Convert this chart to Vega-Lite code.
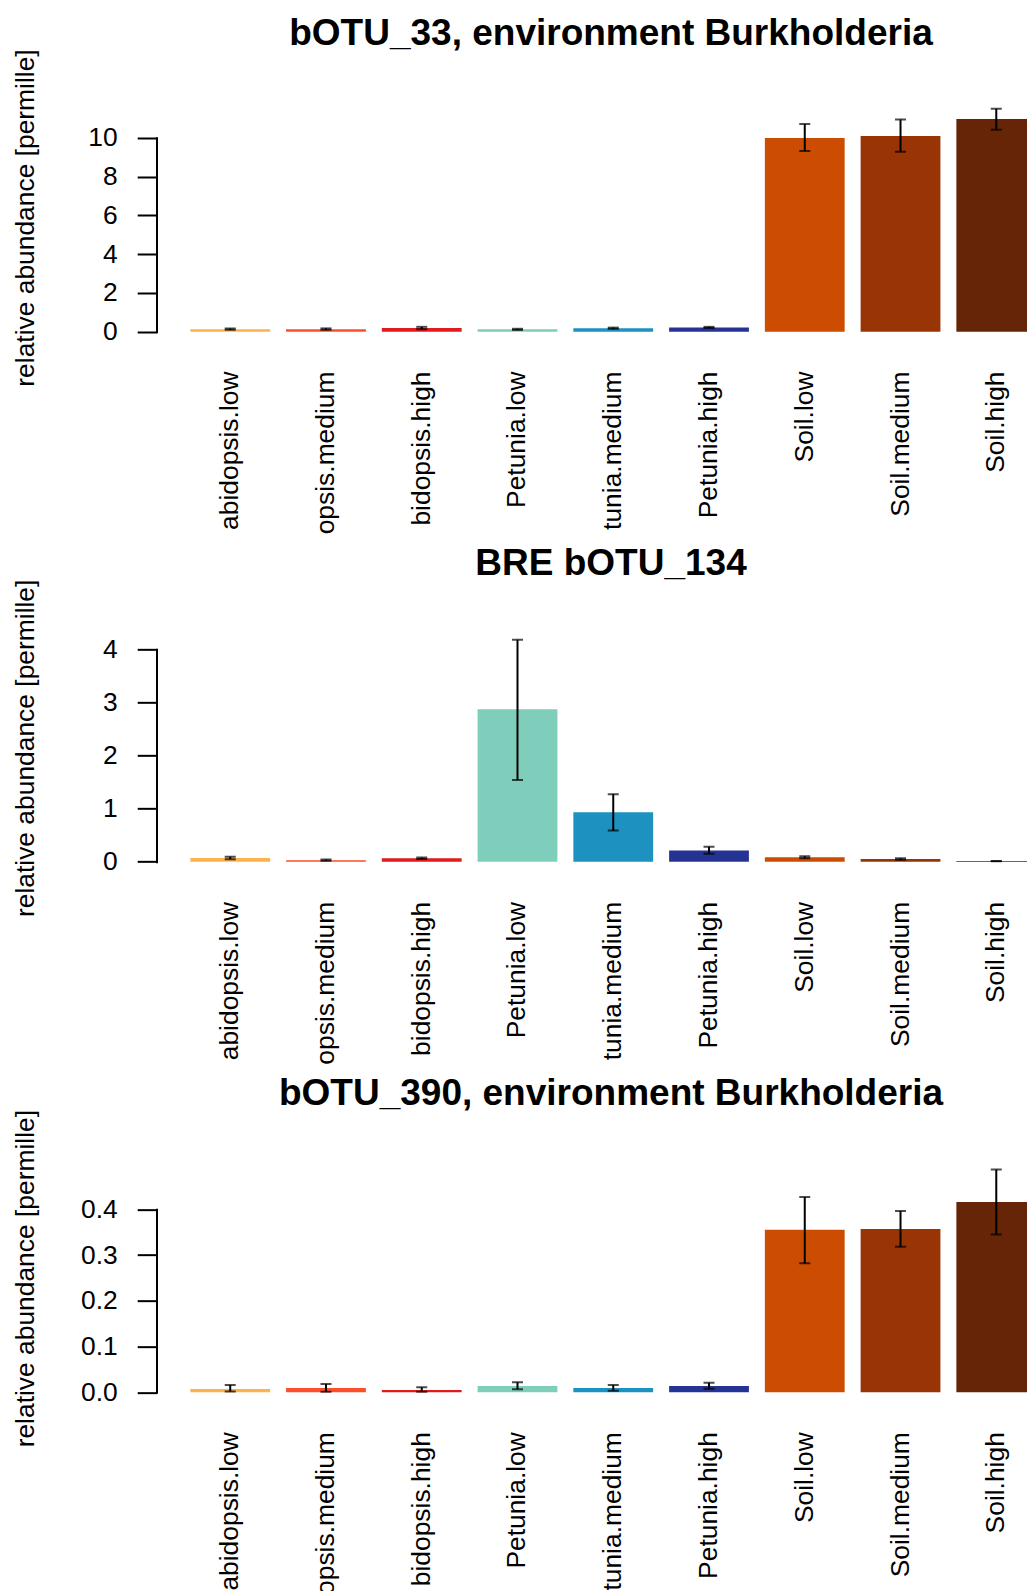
{
  "$schema": "https://vega.github.io/schema/vega-lite/v6.json",
  "background": "white",
  "padding": {"left": 11.5, "top": 14, "right": 0, "bottom": 0},
  "bounds": "flush",
  "spacing": 280.33,
  "config": {
    "font": "Liberation Sans",
    "view": {"stroke": null},
    "style": {"guide-label": {"dir": "rtl", "ellipsis": "\u200b"}},
    "axis": {"labelFont": "Liberation Sans", "titleFont": "Liberation Sans", "labelColor": "black", "titleColor": "black", "grid": false}
  },
  "data": {"values": [
    {"panel": 1, "group": "Arabidopsis.low", "mean": 0.13, "lo": 0.10, "hi": 0.17},
    {"panel": 1, "group": "Arabidopsis.medium", "mean": 0.13, "lo": 0.10, "hi": 0.17},
    {"panel": 1, "group": "Arabidopsis.high", "mean": 0.19, "lo": 0.13, "hi": 0.25},
    {"panel": 1, "group": "Petunia.low", "mean": 0.12, "lo": 0.09, "hi": 0.15},
    {"panel": 1, "group": "Petunia.medium", "mean": 0.18, "lo": 0.15, "hi": 0.21},
    {"panel": 1, "group": "Petunia.high", "mean": 0.22, "lo": 0.19, "hi": 0.25},
    {"panel": 1, "group": "Soil.low", "mean": 9.98, "lo": 9.32, "hi": 10.71},
    {"panel": 1, "group": "Soil.medium", "mean": 10.09, "lo": 9.27, "hi": 10.94},
    {"panel": 1, "group": "Soil.high", "mean": 10.96, "lo": 10.41, "hi": 11.49},
    {"panel": 2, "group": "Arabidopsis.low", "mean": 0.07, "lo": 0.045, "hi": 0.095},
    {"panel": 2, "group": "Arabidopsis.medium", "mean": 0.03, "lo": 0.02, "hi": 0.04},
    {"panel": 2, "group": "Arabidopsis.high", "mean": 0.065, "lo": 0.05, "hi": 0.08},
    {"panel": 2, "group": "Petunia.low", "mean": 2.87, "lo": 1.54, "hi": 4.18},
    {"panel": 2, "group": "Petunia.medium", "mean": 0.93, "lo": 0.59, "hi": 1.27},
    {"panel": 2, "group": "Petunia.high", "mean": 0.21, "lo": 0.15, "hi": 0.28},
    {"panel": 2, "group": "Soil.low", "mean": 0.085, "lo": 0.065, "hi": 0.105},
    {"panel": 2, "group": "Soil.medium", "mean": 0.05, "lo": 0.035, "hi": 0.065},
    {"panel": 2, "group": "Soil.high", "mean": 0.012, "lo": 0.008, "hi": 0.016},
    {"panel": 3, "group": "Arabidopsis.low", "mean": 0.0072, "lo": 0.0015, "hi": 0.016},
    {"panel": 3, "group": "Arabidopsis.medium", "mean": 0.0094, "lo": 0.001, "hi": 0.018},
    {"panel": 3, "group": "Arabidopsis.high", "mean": 0.005, "lo": 0.001, "hi": 0.011},
    {"panel": 3, "group": "Petunia.low", "mean": 0.0138, "lo": 0.0066, "hi": 0.022},
    {"panel": 3, "group": "Petunia.medium", "mean": 0.0094, "lo": 0.0035, "hi": 0.016},
    {"panel": 3, "group": "Petunia.high", "mean": 0.0138, "lo": 0.0079, "hi": 0.021},
    {"panel": 3, "group": "Soil.low", "mean": 0.355, "lo": 0.282, "hi": 0.427},
    {"panel": 3, "group": "Soil.medium", "mean": 0.357, "lo": 0.318, "hi": 0.396},
    {"panel": 3, "group": "Soil.high", "mean": 0.416, "lo": 0.345, "hi": 0.487}
  ]},
  "vconcat": [
    {
      "title": {"text": "bOTU_33, environment Burkholderia", "font": "Liberation Sans", "fontSize": 37, "fontWeight": "bold", "color": "black", "anchor": "middle", "frame": "group", "dx": 19, "offset": -32.8, "baseline": "alphabetic"},
      "width": 871, "height": 250,
      "transform": [{"filter": "datum.panel == 1"}],
      "encoding": {
        "x": {"field": "group", "type": "nominal", "sort": null,
          "scale": {"domain": ["Arabidopsis.low", "Arabidopsis.medium", "Arabidopsis.high", "Petunia.low", "Petunia.medium", "Petunia.high", "Soil.low", "Soil.medium", "Soil.high"], "range": [0, 913.5], "paddingInner": 0.16667, "paddingOuter": 0.3533},
          "axis": {"title": null, "domain": false, "ticks": false, "tickSize": 0, "labelPadding": 31, "labelAngle": 270, "labelAlign": "right", "labelBaseline": "middle", "labelFontSize": 26.4, "labelLimit": 164, "labelOverlap": false}}
      },
      "layer": [
        {"mark": {"type": "bar", "clip": true},
         "encoding": {
           "y": {"field": "mean", "type": "quantitative", "scale": {"domain": [-0.428, 12.459], "nice": false, "zero": false},
             "axis": {"title": "relative abundance [permille]", "values": [0, 2, 4, 6, 8, 10], "format": "d", "tickSize": 19.3, "tickWidth": 2, "tickColor": "black", "domainColor": "black", "domainWidth": 2, "domainDash": [0, 7.3, 196, 1000], "labelPadding": 20, "labelFontSize": 26.4, "titleFontSize": 26.4, "titleFontWeight": "normal", "titleAngle": 270, "titleAlign": "center", "titleBaseline": "alphabetic", "titleX": -123.5, "titleY": 127.5}},
           "color": {"field": "group", "type": "nominal", "legend": null,
             "scale": {"domain": ["Arabidopsis.low", "Arabidopsis.medium", "Arabidopsis.high", "Petunia.low", "Petunia.medium", "Petunia.high", "Soil.low", "Soil.medium", "Soil.high"], "range": ["#FEB24C", "#FC4E2A", "#E31A1C", "#7FCDBB", "#1D91C0", "#253494", "#CC4C02", "#993404", "#662506"]}}
         }},
        {"mark": {"type": "rule", "color": "black", "strokeWidth": 2, "clip": true},
         "encoding": {"y": {"field": "lo", "type": "quantitative"}, "y2": {"field": "hi"}}},
        {"mark": {"type": "tick", "color": "black", "size": 11, "thickness": 2, "clip": true},
         "encoding": {"y": {"field": "lo", "type": "quantitative"}}},
        {"mark": {"type": "tick", "color": "black", "size": 11, "thickness": 2, "clip": true},
         "encoding": {"y": {"field": "hi", "type": "quantitative"}}}
      ]
    },
    {
      "title": {"text": "BRE bOTU_134", "font": "Liberation Sans", "fontSize": 37, "fontWeight": "bold", "color": "black", "anchor": "middle", "frame": "group", "dx": 19, "offset": -32.8, "baseline": "alphabetic"},
      "width": 871, "height": 250,
      "transform": [{"filter": "datum.panel == 2"}],
      "encoding": {
        "x": {"field": "group", "type": "nominal", "sort": null,
          "scale": {"domain": ["Arabidopsis.low", "Arabidopsis.medium", "Arabidopsis.high", "Petunia.low", "Petunia.medium", "Petunia.high", "Soil.low", "Soil.medium", "Soil.high"], "range": [0, 913.5], "paddingInner": 0.16667, "paddingOuter": 0.3533},
          "axis": {"title": null, "domain": false, "ticks": false, "tickSize": 0, "labelPadding": 31, "labelAngle": 270, "labelAlign": "right", "labelBaseline": "middle", "labelFontSize": 26.4, "labelLimit": 164, "labelOverlap": false}}
      },
      "layer": [
        {"mark": {"type": "bar", "clip": true},
         "encoding": {
           "y": {"field": "mean", "type": "quantitative", "scale": {"domain": [-0.162, 4.546], "nice": false, "zero": false},
             "axis": {"title": "relative abundance [permille]", "values": [0, 1, 2, 3, 4], "format": "d", "tickSize": 19.3, "tickWidth": 2, "tickColor": "black", "domainColor": "black", "domainWidth": 2, "domainDash": [0, 7.6, 214.4, 1000], "labelPadding": 20, "labelFontSize": 26.4, "titleFontSize": 26.4, "titleFontWeight": "normal", "titleAngle": 270, "titleAlign": "center", "titleBaseline": "alphabetic", "titleX": -123.5, "titleY": 127.5}},
           "color": {"field": "group", "type": "nominal", "legend": null,
             "scale": {"domain": ["Arabidopsis.low", "Arabidopsis.medium", "Arabidopsis.high", "Petunia.low", "Petunia.medium", "Petunia.high", "Soil.low", "Soil.medium", "Soil.high"], "range": ["#FEB24C", "#FC4E2A", "#E31A1C", "#7FCDBB", "#1D91C0", "#253494", "#CC4C02", "#993404", "#662506"]}}
         }},
        {"mark": {"type": "rule", "color": "black", "strokeWidth": 2, "clip": true},
         "encoding": {"y": {"field": "lo", "type": "quantitative"}, "y2": {"field": "hi"}}},
        {"mark": {"type": "tick", "color": "black", "size": 11, "thickness": 2, "clip": true},
         "encoding": {"y": {"field": "lo", "type": "quantitative"}}},
        {"mark": {"type": "tick", "color": "black", "size": 11, "thickness": 2, "clip": true},
         "encoding": {"y": {"field": "hi", "type": "quantitative"}}}
      ]
    },
    {
      "title": {"text": "bOTU_390, environment Burkholderia", "font": "Liberation Sans", "fontSize": 37, "fontWeight": "bold", "color": "black", "anchor": "middle", "frame": "group", "dx": 19, "offset": -32.8, "baseline": "alphabetic"},
      "width": 871, "height": 250,
      "transform": [{"filter": "datum.panel == 3"}],
      "encoding": {
        "x": {"field": "group", "type": "nominal", "sort": null,
          "scale": {"domain": ["Arabidopsis.low", "Arabidopsis.medium", "Arabidopsis.high", "Petunia.low", "Petunia.medium", "Petunia.high", "Soil.low", "Soil.medium", "Soil.high"], "range": [0, 913.5], "paddingInner": 0.16667, "paddingOuter": 0.3533},
          "axis": {"title": null, "domain": false, "ticks": false, "tickSize": 0, "labelPadding": 31, "labelAngle": 270, "labelAlign": "right", "labelBaseline": "middle", "labelFontSize": 26.4, "labelLimit": 164, "labelOverlap": false}}
      },
      "layer": [
        {"mark": {"type": "bar", "clip": true},
         "encoding": {
           "y": {"field": "mean", "type": "quantitative", "scale": {"domain": [-0.01836, 0.5281], "nice": false, "zero": false},
             "axis": {"title": "relative abundance [permille]", "values": [0, 0.1, 0.2, 0.3, 0.4], "format": ".1f", "tickSize": 19.3, "tickWidth": 2, "tickColor": "black", "domainColor": "black", "domainWidth": 2, "domainDash": [0, 7.4, 185, 1000], "labelPadding": 20, "labelFontSize": 26.4, "titleFontSize": 26.4, "titleFontWeight": "normal", "titleAngle": 270, "titleAlign": "center", "titleBaseline": "alphabetic", "titleX": -123.5, "titleY": 127.5}},
           "color": {"field": "group", "type": "nominal", "legend": null,
             "scale": {"domain": ["Arabidopsis.low", "Arabidopsis.medium", "Arabidopsis.high", "Petunia.low", "Petunia.medium", "Petunia.high", "Soil.low", "Soil.medium", "Soil.high"], "range": ["#FEB24C", "#FC4E2A", "#E31A1C", "#7FCDBB", "#1D91C0", "#253494", "#CC4C02", "#993404", "#662506"]}}
         }},
        {"mark": {"type": "rule", "color": "black", "strokeWidth": 2, "clip": true},
         "encoding": {"y": {"field": "lo", "type": "quantitative"}, "y2": {"field": "hi"}}},
        {"mark": {"type": "tick", "color": "black", "size": 11, "thickness": 2, "clip": true},
         "encoding": {"y": {"field": "lo", "type": "quantitative"}}},
        {"mark": {"type": "tick", "color": "black", "size": 11, "thickness": 2, "clip": true},
         "encoding": {"y": {"field": "hi", "type": "quantitative"}}}
      ]
    }
  ]
}
